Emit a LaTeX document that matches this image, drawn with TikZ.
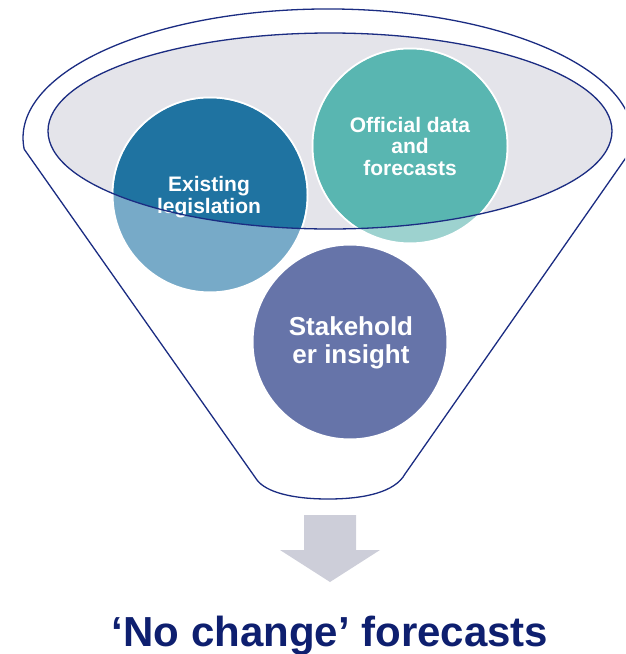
\documentclass[tikz,border=0pt]{standalone}
\usepackage{fontspec}
\setmainfont{Liberation Sans}
\usetikzlibrary{positioning}

\definecolor{rimnavy}{HTML}{1B2C82}
\definecolor{rimfill}{HTML}{E4E4EA}
\definecolor{legisdark}{HTML}{1F73A1}
\definecolor{legislight}{HTML}{77AAC8}
\definecolor{officialdark}{HTML}{59B6B1}
\definecolor{officiallight}{HTML}{9DD2CF}
\definecolor{stakecol}{HTML}{6674A9}
\definecolor{arrowgrey}{HTML}{CDCED9}
\definecolor{titlenavy}{HTML}{0E1F6F}

\begin{document}
\begin{tikzpicture}[x=1pt, y=-1pt,
    rim/.style={draw=rimnavy, line width=1.3pt},
    blob/.style={circle, draw=white, line width=2pt, minimum size=195pt, inner sep=0pt},
    blobtext/.style={text=white, align=center, font=\bfseries\fontsize{21}{21.5}\selectfont}]
    \useasboundingbox (0,0) rectangle (625,654);
    \clip (0,0) rectangle (625,654);
    % funnel body
    \draw[rim, fill=white] (24.2,149.2) arc[start angle=175, end angle=365, x radius=305, y radius=129]
        -- (405,474) .. controls (395,492) and (365,499) .. (328,499)
        .. controls (292,499) and (266,492) .. (257,480) -- cycle;
    % inner rim
    \fill[rimfill] (330,131) ellipse[x radius=282, y radius=98];
    \node[blob, fill=legislight] (legis) at (210,195) {};
    \node[blob, fill=officiallight] (official) at (410,146) {};
    \node[blob, fill=stakecol] (stake) at (350,342) {};
    \begin{scope}
        \clip (330,131) ellipse[x radius=282, y radius=98];
        \fill[legisdark] (legis.center) circle[radius=96.5];
        \fill[officialdark] (official.center) circle[radius=96.5];
    \end{scope}
    \node[blobtext] (legistext) at (209,197) {Existing\\legislation};
    \node[blobtext] (officialtext) at (official.center) {Official data\\and\\forecasts};
    \node[blobtext, font=\bfseries\fontsize{26}{28}\selectfont] (staketext) at (351,343) {Stakehold\\er insight};
    \draw[rim] (330,131) ellipse[x radius=282, y radius=98];
    % output arrow
    \fill[arrowgrey] (304,515) -- (356,515) -- (356,550) -- (380,550) -- (330,582)
        -- (280,550) -- (304,550) -- cycle;
    \node[font=\bfseries\fontsize{42}{42}\selectfont, text=titlenavy, anchor=base] (title) at (330,646) {‘No change’ forecasts};
\end{tikzpicture}
\end{document}
